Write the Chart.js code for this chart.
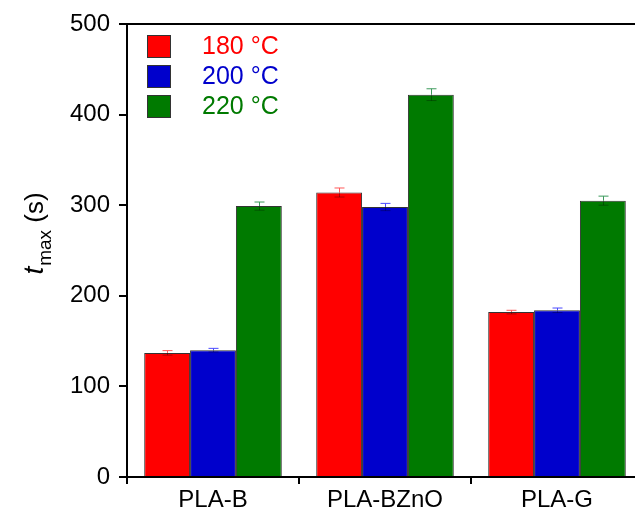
<!DOCTYPE html>
<html>
<head>
<meta charset="utf-8">
<script src="https://cdn.jsdelivr.net/npm/chart.js@4"></script>
<style>
    html, body { margin: 0; padding: 0; background: #fff; overflow: hidden; }
    #wrap { width: 645px; height: 513px; }
</style>
</head>
<body>
<div id="wrap"><canvas id="chart"></canvas></div>
<script>
// data
const categories = ['PLA-B', 'PLA-BZnO', 'PLA-G'];
const seriesLabels = ['180 °C', '200 °C', '220 °C'];
const seriesColors = ['#FF0000', '#0000CC', '#007A00'];
const errColors = ['#FF5A5A', '#4A4AFF', '#3C9A5C'];
const values180 = [137, 314, 182];
const values200 = [140, 298, 184];
const values220 = [299, 422, 305];
const err180 = [2.5, 5, 2];
const err200 = [2, 4, 2.5];
const err220 = [4.5, 6.5, 5];
const yTicks = [0, 100, 200, 300, 400, 500];

const FONT = "'Liberation Sans', Arial, sans-serif";
const allValues = [values180, values200, values220];
const allErrors = [err180, err200, err220];

// ========================
// Error bars
// ========================
const errorBars = {
    id: 'errorBars',
    afterDatasetsDraw(chart) {
        const { ctx } = chart;
        const y = chart.scales.y;
        ctx.save();
        ctx.lineWidth = 1;
        chart.data.datasets.forEach((ds, i) => {
            const meta = chart.getDatasetMeta(i);
            meta.data.forEach((bar, j) => {
                const v = ds.data[j];
                const e = allErrors[i][j];
                const top = y.getPixelForValue(v + e);
                const mid = y.getPixelForValue(v);
                const bot = y.getPixelForValue(v - e);
                const x = Math.round(bar.x) + 0.5;
                ctx.strokeStyle = errColors[i];
                ctx.beginPath();
                ctx.moveTo(x, top); ctx.lineTo(x, mid);
                ctx.moveTo(x - 5, top); ctx.lineTo(x + 5, top);
                ctx.stroke();
                ctx.strokeStyle = 'rgba(0,0,0,0.3)';
                ctx.beginPath();
                ctx.moveTo(x, mid); ctx.lineTo(x, bot);
                ctx.moveTo(x - 5, bot); ctx.lineTo(x + 5, bot);
                ctx.stroke();
            });
        });
        ctx.restore();
    }
};

// ========================
// Frame, legend and y title
// ========================
const extras = {
    id: 'extras',
    afterDraw(chart) {
        const { ctx, chartArea } = chart;
        ctx.save();

        // top border
        ctx.strokeStyle = '#000';
        ctx.lineWidth = 2;
        ctx.beginPath();
        ctx.moveTo(chartArea.left, chartArea.top);
        ctx.lineTo(chartArea.right, chartArea.top);
        ctx.stroke();

        // legend inside plot
        ctx.font = '25px ' + FONT;
        ctx.textBaseline = 'middle';
        ctx.textAlign = 'left';
        chart.data.datasets.forEach((ds, i) => {
            const by = 35 + i * 30;
            ctx.fillStyle = ds.backgroundColor;
            ctx.fillRect(147, by, 24, 23);
            ctx.strokeStyle = '#333';
            ctx.lineWidth = 1;
            ctx.strokeRect(147.5, by + 0.5, 23, 22);
            ctx.fillStyle = ds.backgroundColor;
            ctx.fillText(ds.label, 202, by + 12);
        });

        // y axis title: t_max (s)
        ctx.translate(43, 234);
        ctx.rotate(-Math.PI / 2);
        ctx.fillStyle = '#000';
        ctx.textBaseline = 'alphabetic';
        const fMain = '26px ' + FONT;
        const fItal = 'italic 28px ' + FONT;
        const fSub = '19px ' + FONT;
        ctx.font = fItal; const wT = ctx.measureText('t').width;
        ctx.font = fSub; const wM = ctx.measureText('max').width;
        ctx.font = fMain; const wS = ctx.measureText(' (s)').width;
        let x0 = -(wT + wM + wS) / 2;
        ctx.font = fItal; ctx.fillText('t', x0, 0); x0 += wT + 1;
        ctx.font = fSub; ctx.fillText('max', x0, 8); x0 += wM;
        ctx.font = fMain; ctx.fillText(' (s)', x0, 0);

        ctx.restore();
    }
};

const ctx = document.getElementById('chart');
new Chart(ctx, {
    type: 'bar',
    data: {
        labels: categories,
        datasets: seriesLabels.map((label, i) => ({
            label: label,
            data: allValues[i],
            backgroundColor: seriesColors[i],
            borderColor: '#333',
            borderWidth: 1,
            categoryPercentage: 0.8,
            barPercentage: 1.0
        }))
    },
    options: {
        responsive: true,
        maintainAspectRatio: false,
        animation: false,
        layout: { padding: { top: 24, left: 0, right: 2, bottom: 0 } },
        plugins: {
            legend: { display: false },
            tooltip: { enabled: false }
        },
        scales: {
            x: {
                afterFit(scale) { scale.height = 36; },
                grid: { drawOnChartArea: false, drawTicks: true, tickLength: 7, color: '#000', lineWidth: 2, offset: true },
                border: { color: '#000', width: 2 },
                ticks: { color: '#000', font: { family: FONT, size: 24 }, padding: 2 }
            },
            y: {
                min: 0,
                max: 500,
                afterFit(scale) { scale.width = 127; },
                afterBuildTicks(scale) { scale.ticks = yTicks.map(v => ({ value: v })); },
                grid: { drawOnChartArea: false, drawTicks: true, tickLength: 8, color: '#000', lineWidth: 2 },
                border: { color: '#000', width: 2 },
                ticks: { color: '#000', font: { family: FONT, size: 24 }, padding: 9 }
            }
        }
    },
    plugins: [errorBars, extras]
});
</script>
</body>
</html>
